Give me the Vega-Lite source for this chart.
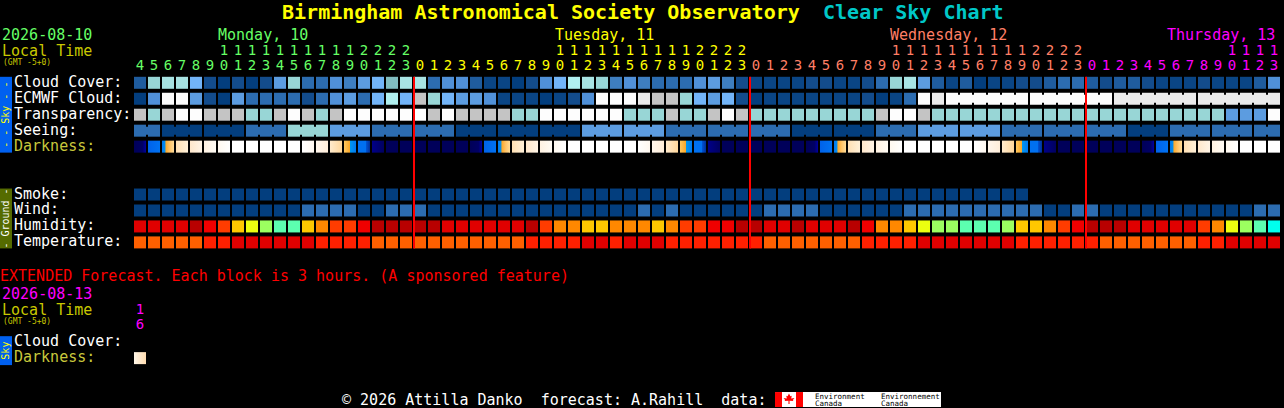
{
  "$schema": "https://vega.github.io/schema/vega-lite/v6.json",
  "width": 1284,
  "height": 408,
  "autosize": {"type": "fit", "contains": "padding"},
  "padding": 0,
  "background": "#000000",
  "config": {
    "view": {"stroke": null},
    "axis": {"disable": true},
    "legend": {"disable": true},
    "text": {"font": "DejaVu Sans Mono", "fontSize": 15, "align": "left", "baseline": "alphabetic"}
  },
  "data": {"values": [{}]},
  "datasets": {
    "cloud": [
      {"block":0,"v":"c15"},{"block":1,"v":"c70"},{"block":2,"v":"c80"},{"block":3,"v":"c80"},{"block":4,"v":"c55"},{"block":5,"v":"c10"},{"block":6,"v":"c0"},{"block":7,"v":"c10"},{"block":8,"v":"c0"},{"block":9,"v":"c10"},
      {"block":10,"v":"c50"},{"block":11,"v":"c70"},{"block":12,"v":"c20"},{"block":13,"v":"c20"},{"block":14,"v":"c40"},{"block":15,"v":"c30"},{"block":16,"v":"c50"},{"block":17,"v":"c55"},{"block":18,"v":"c60"},{"block":19,"v":"c80"},
      {"block":20,"v":"c80"},{"block":21,"v":"c20"},{"block":22,"v":"c40"},{"block":23,"v":"c40"},{"block":24,"v":"c15"},{"block":25,"v":"c5"},{"block":26,"v":"c5"},{"block":27,"v":"c0"},{"block":28,"v":"c10"},{"block":29,"v":"c40"},
      {"block":30,"v":"c55"},{"block":31,"v":"c90"},{"block":32,"v":"c80"},{"block":33,"v":"c70"},{"block":34,"v":"c30"},{"block":35,"v":"c40"},{"block":36,"v":"c30"},{"block":37,"v":"c20"},{"block":38,"v":"c20"},{"block":39,"v":"c20"},
      {"block":40,"v":"c40"},{"block":41,"v":"c50"},{"block":42,"v":"c30"},{"block":43,"v":"c10"},{"block":44,"v":"c5"},{"block":45,"v":"c5"},{"block":46,"v":"c5"},{"block":47,"v":"c5"},{"block":48,"v":"c10"},{"block":49,"v":"c10"},
      {"block":50,"v":"c5"},{"block":51,"v":"c5"},{"block":52,"v":"c10"},{"block":53,"v":"c20"},{"block":54,"v":"c70"},{"block":55,"v":"c80"},{"block":56,"v":"c50"},{"block":57,"v":"c15"},{"block":58,"v":"c5"},{"block":59,"v":"c15"},
      {"block":60,"v":"c0"},{"block":61,"v":"c5"},{"block":62,"v":"c5"},{"block":63,"v":"c10"},{"block":64,"v":"c10"},{"block":65,"v":"c15"},{"block":66,"v":"c20"},{"block":67,"v":"c20"},{"block":68,"v":"c15"},{"block":69,"v":"c10"},
      {"block":70,"v":"c15"},{"block":71,"v":"c15"},{"block":72,"v":"c10"},{"block":73,"v":"c5"},{"block":74,"v":"c5"},{"block":75,"v":"c5"},{"block":76,"v":"c10"},{"block":77,"v":"c5"},{"block":78,"v":"c5"},{"block":79,"v":"c5"},
      {"block":80,"v":"c15"},{"block":81,"v":"c40"}
    ],
    "ecmwf": [
      {"block":0,"v":"c0"},{"block":1,"v":"c40"},{"block":2,"v":"c100"},{"block":3,"v":"c100"},{"block":4,"v":"c50"},{"block":5,"v":"c10"},{"block":6,"v":"c0"},{"block":7,"v":"c50"},{"block":8,"v":"c20"},{"block":9,"v":"c20"},
      {"block":10,"v":"c20"},{"block":11,"v":"c20"},{"block":12,"v":"c10"},{"block":13,"v":"c20"},{"block":14,"v":"c40"},{"block":15,"v":"c50"},{"block":16,"v":"c20"},{"block":17,"v":"c55"},{"block":18,"v":"c90"},{"block":19,"v":"c55"},
      {"block":20,"v":"c95"},{"block":21,"v":"c70"},{"block":22,"v":"c55"},{"block":23,"v":"c50"},{"block":24,"v":"c50"},{"block":25,"v":"c40"},{"block":26,"v":"c5"},{"block":27,"v":"c5"},{"block":28,"v":"c5"},{"block":29,"v":"c0"},
      {"block":30,"v":"c5"},{"block":31,"v":"c10"},{"block":32,"v":"c40"},{"block":33,"v":"c100"},{"block":34,"v":"c100"},{"block":35,"v":"c100"},{"block":36,"v":"c98"},{"block":37,"v":"c95"},{"block":38,"v":"c95"},{"block":39,"v":"c70"},
      {"block":40,"v":"c55"},{"block":41,"v":"c50"},{"block":42,"v":"c55"},{"block":43,"v":"c10"},{"block":44,"v":"c0"},{"block":45,"v":"c5"},{"block":46,"v":"c5"},{"block":47,"v":"c5"},{"block":48,"v":"c5"},{"block":49,"v":"c5"},
      {"block":50,"v":"c5"},{"block":51,"v":"c5"},{"block":52,"v":"c10"},{"block":53,"v":"c0"},{"block":54,"v":"c5"},{"block":55,"v":"c20"},{"block":56,"v":"c100"},{"block":57,"v":"c98"},
      {"block":58,"v":"c100","link":1},{"block":59,"v":"c100","link":1},{"block":60,"v":"c100","link":1},{"block":61,"v":"c100","link":1},{"block":62,"v":"c100","link":1},{"block":63,"v":"c100"},
      {"block":64,"v":"c100","link":1},{"block":65,"v":"c100","link":1},{"block":66,"v":"c100","link":1},{"block":67,"v":"c100","link":1},{"block":68,"v":"c100","link":1},{"block":69,"v":"c100"},
      {"block":70,"v":"c98","link":1},{"block":71,"v":"c98","link":1},{"block":72,"v":"c98","link":1},{"block":73,"v":"c98","link":1},{"block":74,"v":"c98","link":1},{"block":75,"v":"c98"},
      {"block":76,"v":"c98","link":1},{"block":77,"v":"c98","link":1},{"block":78,"v":"c98","link":1},{"block":79,"v":"c98","link":1},{"block":80,"v":"c98","link":1},{"block":81,"v":"c98"}
    ],
    "transparency": [
      {"block":0,"v":"c95"},{"block":1,"v":"c70"},{"block":2,"v":"c95"},{"block":3,"v":"c100"},{"block":4,"v":"c100"},{"block":5,"v":"c95"},{"block":6,"v":"c95"},{"block":7,"v":"c95"},{"block":8,"v":"c70"},{"block":9,"v":"c70"},
      {"block":10,"v":"c95"},{"block":11,"v":"c100"},{"block":12,"v":"c95"},{"block":13,"v":"c70"},{"block":14,"v":"c95"},{"block":15,"v":"c100"},{"block":16,"v":"c100"},{"block":17,"v":"c100"},{"block":18,"v":"c100"},{"block":19,"v":"c100"},
      {"block":20,"v":"c100"},{"block":21,"v":"c95"},{"block":22,"v":"c100"},{"block":23,"v":"c95"},{"block":24,"v":"c95"},{"block":25,"v":"c95"},{"block":26,"v":"c95"},{"block":27,"v":"c70"},{"block":28,"v":"c70"},{"block":29,"v":"c100"},
      {"block":30,"v":"c100"},{"block":31,"v":"c100"},{"block":32,"v":"c100"},{"block":33,"v":"c100"},{"block":34,"v":"c100"},{"block":35,"v":"c70"},{"block":36,"v":"c70"},{"block":37,"v":"c70"},{"block":38,"v":"c95"},{"block":39,"v":"c70"},
      {"block":40,"v":"c70"},{"block":41,"v":"c95"},{"block":42,"v":"c100"},{"block":43,"v":"c95"},{"block":44,"v":"c70"},{"block":45,"v":"c70"},{"block":46,"v":"c70"},{"block":47,"v":"c70"},{"block":48,"v":"c70"},{"block":49,"v":"c70"},
      {"block":50,"v":"c70"},{"block":51,"v":"c70"},{"block":52,"v":"c70"},{"block":53,"v":"c95"},{"block":54,"v":"c100"},{"block":55,"v":"c100"},{"block":56,"v":"c95"},{"block":57,"v":"c70"},{"block":58,"v":"c70"},{"block":59,"v":"c70"},
      {"block":60,"v":"c70"},{"block":61,"v":"c70"},{"block":62,"v":"c70"},{"block":63,"v":"c70"},{"block":64,"v":"c70"},{"block":65,"v":"c70"},{"block":66,"v":"c70"},{"block":67,"v":"c70"},{"block":68,"v":"c70"},{"block":69,"v":"c70"},
      {"block":70,"v":"c70"},{"block":71,"v":"c70"},{"block":72,"v":"c70"},{"block":73,"v":"c70"},{"block":74,"v":"c70"},{"block":75,"v":"c70"},{"block":76,"v":"c70"},{"block":77,"v":"c70"},{"block":78,"v":"c50"},{"block":79,"v":"c50"},
      {"block":80,"v":"c50"},{"block":81,"v":"c100"}
    ],
    "seeing": [
      {"block":0,"v":"c20","link":1},{"block":1,"v":"c20"},
      {"block":2,"v":"c0","link":1},{"block":3,"v":"c0","link":1},{"block":4,"v":"c0"},
      {"block":5,"v":"c0","link":1},{"block":6,"v":"c0","link":1},{"block":7,"v":"c0"},
      {"block":8,"v":"c20","link":1},{"block":9,"v":"c20","link":1},{"block":10,"v":"c20"},
      {"block":11,"v":"c70","link":1},{"block":12,"v":"c70","link":1},{"block":13,"v":"c70"},
      {"block":14,"v":"c50","link":1},{"block":15,"v":"c50","link":1},{"block":16,"v":"c50"},
      {"block":17,"v":"c20","link":1},{"block":18,"v":"c20","link":1},{"block":19,"v":"c20"},
      {"block":20,"v":"c20","link":1},{"block":21,"v":"c20","link":1},{"block":22,"v":"c20"},
      {"block":23,"v":"c0","link":1},{"block":24,"v":"c0","link":1},{"block":25,"v":"c0"},
      {"block":26,"v":"c0","link":1},{"block":27,"v":"c0","link":1},{"block":28,"v":"c0"},
      {"block":29,"v":"c0","link":1},{"block":30,"v":"c0","link":1},{"block":31,"v":"c0"},
      {"block":32,"v":"c50","link":1},{"block":33,"v":"c50","link":1},{"block":34,"v":"c50"},
      {"block":35,"v":"c50","link":1},{"block":36,"v":"c50","link":1},{"block":37,"v":"c50"},
      {"block":38,"v":"c20","link":1},{"block":39,"v":"c20","link":1},{"block":40,"v":"c20"},
      {"block":41,"v":"c20","link":1},{"block":42,"v":"c20","link":1},{"block":43,"v":"c20"},
      {"block":44,"v":"c20","link":1},{"block":45,"v":"c20","link":1},{"block":46,"v":"c20"},
      {"block":47,"v":"c0","link":1},{"block":48,"v":"c0","link":1},{"block":49,"v":"c0"},
      {"block":50,"v":"c0","link":1},{"block":51,"v":"c0","link":1},{"block":52,"v":"c0"},
      {"block":53,"v":"c20","link":1},{"block":54,"v":"c20","link":1},{"block":55,"v":"c20"},
      {"block":56,"v":"c50","link":1},{"block":57,"v":"c50","link":1},{"block":58,"v":"c50"},
      {"block":59,"v":"c50","link":1},{"block":60,"v":"c50","link":1},{"block":61,"v":"c50"},
      {"block":62,"v":"c20","link":1},{"block":63,"v":"c20","link":1},{"block":64,"v":"c20"},
      {"block":65,"v":"c20","link":1},{"block":66,"v":"c20","link":1},{"block":67,"v":"c20"},
      {"block":68,"v":"c20","link":1},{"block":69,"v":"c20","link":1},{"block":70,"v":"c20"},
      {"block":71,"v":"c0","link":1},{"block":72,"v":"c0","link":1},{"block":73,"v":"c0"},
      {"block":74,"v":"c20","link":1},{"block":75,"v":"c20","link":1},{"block":76,"v":"c20"},
      {"block":77,"v":"c20","link":1},{"block":78,"v":"c20","link":1},{"block":79,"v":"c20"},
      {"block":80,"v":"c20","link":1},{"block":81,"v":"c20"}
    ],
    "darkness": [
      {"block":0,"v":"predawn"},{"block":1,"v":"sunrise"},{"block":2,"v":"dawn"},{"block":3,"v":"morn1"},{"block":4,"v":"morn2"},{"block":5,"v":"morn3"},{"block":6,"v":"morn4"},{"block":7,"v":"day"},{"block":8,"v":"day"},{"block":9,"v":"day"},
      {"block":10,"v":"day"},{"block":11,"v":"day"},{"block":12,"v":"aft1"},{"block":13,"v":"aft2"},{"block":14,"v":"aft3"},{"block":15,"v":"dusk"},{"block":16,"v":"twilight"},{"block":17,"v":"nightfall"},{"block":18,"v":"night"},{"block":19,"v":"night"},
      {"block":20,"v":"night"},{"block":21,"v":"night"},{"block":22,"v":"night"},{"block":23,"v":"night"},{"block":24,"v":"predawn"},{"block":25,"v":"sunrise"},{"block":26,"v":"dawn"},{"block":27,"v":"morn1"},{"block":28,"v":"morn2"},{"block":29,"v":"morn3"},
      {"block":30,"v":"morn4"},{"block":31,"v":"day"},{"block":32,"v":"day"},{"block":33,"v":"day"},{"block":34,"v":"day"},{"block":35,"v":"day"},{"block":36,"v":"aft1"},{"block":37,"v":"aft2"},{"block":38,"v":"aft3"},{"block":39,"v":"dusk"},
      {"block":40,"v":"twilight"},{"block":41,"v":"nightfall"},{"block":42,"v":"night"},{"block":43,"v":"night"},{"block":44,"v":"night"},{"block":45,"v":"night"},{"block":46,"v":"night"},{"block":47,"v":"night"},{"block":48,"v":"predawn"},{"block":49,"v":"sunrise"},
      {"block":50,"v":"dawn"},{"block":51,"v":"morn1"},{"block":52,"v":"morn2"},{"block":53,"v":"morn3"},{"block":54,"v":"morn4"},{"block":55,"v":"day"},{"block":56,"v":"day"},{"block":57,"v":"day"},{"block":58,"v":"day"},{"block":59,"v":"day"},
      {"block":60,"v":"aft1"},{"block":61,"v":"aft2"},{"block":62,"v":"aft3"},{"block":63,"v":"dusk"},{"block":64,"v":"twilight"},{"block":65,"v":"nightfall"},{"block":66,"v":"night"},{"block":67,"v":"night"},{"block":68,"v":"night"},{"block":69,"v":"night"},
      {"block":70,"v":"night"},{"block":71,"v":"night"},{"block":72,"v":"predawn"},{"block":73,"v":"sunrise"},{"block":74,"v":"dawn"},{"block":75,"v":"morn1"},{"block":76,"v":"morn2"},{"block":77,"v":"morn3"},{"block":78,"v":"morn4"},{"block":79,"v":"day"},
      {"block":80,"v":"day"},{"block":81,"v":"day"}
    ],
    "smoke": [
      {"block":0,"v":"c0"},{"block":1,"v":"c0"},{"block":2,"v":"c0"},{"block":3,"v":"c0"},{"block":4,"v":"c0"},{"block":5,"v":"c0"},{"block":6,"v":"c0"},{"block":7,"v":"c0"},{"block":8,"v":"c0"},{"block":9,"v":"c0"},
      {"block":10,"v":"c0"},{"block":11,"v":"c0"},{"block":12,"v":"c0"},{"block":13,"v":"c0"},{"block":14,"v":"c0"},{"block":15,"v":"c0"},{"block":16,"v":"c0"},{"block":17,"v":"c0"},{"block":18,"v":"c0"},{"block":19,"v":"c0"},
      {"block":20,"v":"c0"},{"block":21,"v":"c0"},{"block":22,"v":"c0"},{"block":23,"v":"c0"},{"block":24,"v":"c0"},{"block":25,"v":"c0"},{"block":26,"v":"c0"},{"block":27,"v":"c0"},{"block":28,"v":"c0"},{"block":29,"v":"c0"},
      {"block":30,"v":"c0"},{"block":31,"v":"c0"},{"block":32,"v":"c0"},{"block":33,"v":"c0"},{"block":34,"v":"c0"},{"block":35,"v":"c0"},{"block":36,"v":"c0"},{"block":37,"v":"c0"},{"block":38,"v":"c0"},{"block":39,"v":"c0"},
      {"block":40,"v":"c0"},{"block":41,"v":"c0"},{"block":42,"v":"c0"},{"block":43,"v":"c0"},{"block":44,"v":"c0"},{"block":45,"v":"c0"},{"block":46,"v":"c0"},{"block":47,"v":"c0"},{"block":48,"v":"c0"},{"block":49,"v":"c0"},
      {"block":50,"v":"c0"},{"block":51,"v":"c0"},{"block":52,"v":"c0"},{"block":53,"v":"c0"},{"block":54,"v":"c0"},{"block":55,"v":"c0"},{"block":56,"v":"c0"},{"block":57,"v":"c0"},{"block":58,"v":"c0"},{"block":59,"v":"c0"},
      {"block":60,"v":"c0"},{"block":61,"v":"c0"},{"block":62,"v":"c0"},{"block":63,"v":"c0"}
    ],
    "wind": [
      {"block":0,"v":"c0"},{"block":1,"v":"c0"},{"block":2,"v":"c0"},{"block":3,"v":"c0"},{"block":4,"v":"c0"},{"block":5,"v":"c0"},{"block":6,"v":"c0"},{"block":7,"v":"c0"},{"block":8,"v":"c0"},{"block":9,"v":"c0"},
      {"block":10,"v":"c0"},{"block":11,"v":"c0"},{"block":12,"v":"c20"},{"block":13,"v":"c20"},{"block":14,"v":"c20"},{"block":15,"v":"c20"},{"block":16,"v":"c0"},{"block":17,"v":"c0"},{"block":18,"v":"c20"},{"block":19,"v":"c20"},
      {"block":20,"v":"c20"},{"block":21,"v":"c0"},{"block":22,"v":"c0"},{"block":23,"v":"c0"},{"block":24,"v":"c0"},{"block":25,"v":"c0"},{"block":26,"v":"c0"},{"block":27,"v":"c0"},{"block":28,"v":"c0"},{"block":29,"v":"c0"},
      {"block":30,"v":"c0"},{"block":31,"v":"c0"},{"block":32,"v":"c0"},{"block":33,"v":"c0"},{"block":34,"v":"c0"},{"block":35,"v":"c0"},{"block":36,"v":"c20"},{"block":37,"v":"c0"},{"block":38,"v":"c20"},{"block":39,"v":"c0"},
      {"block":40,"v":"c0"},{"block":41,"v":"c0"},{"block":42,"v":"c0"},{"block":43,"v":"c0"},{"block":44,"v":"c0"},{"block":45,"v":"c20"},{"block":46,"v":"c20"},{"block":47,"v":"c20"},{"block":48,"v":"c20"},{"block":49,"v":"c0"},
      {"block":50,"v":"c0"},{"block":51,"v":"c0"},{"block":52,"v":"c0"},{"block":53,"v":"c0"},{"block":54,"v":"c0"},{"block":55,"v":"c20"},{"block":56,"v":"c20"},{"block":57,"v":"c20"},{"block":58,"v":"c20"},{"block":59,"v":"c20"},
      {"block":60,"v":"c20"},{"block":61,"v":"c20"},{"block":62,"v":"c20"},{"block":63,"v":"c20"},{"block":64,"v":"c20"},{"block":65,"v":"c0"},{"block":66,"v":"c0"},{"block":67,"v":"c20"},{"block":68,"v":"c20"},{"block":69,"v":"c0"},
      {"block":70,"v":"c0"},{"block":71,"v":"c0"},{"block":72,"v":"c0"},{"block":73,"v":"c0"},{"block":74,"v":"c0"},{"block":75,"v":"c0"},{"block":76,"v":"c0"},{"block":77,"v":"c0"},{"block":78,"v":"c0"},{"block":79,"v":"c0"},
      {"block":80,"v":"c20"},{"block":81,"v":"c20"}
    ],
    "humidity": [
      {"block":0,"v":"h80"},{"block":1,"v":"h80"},{"block":2,"v":"h80"},{"block":3,"v":"h80"},{"block":4,"v":"h95"},{"block":5,"v":"h70"},{"block":6,"v":"h55"},{"block":7,"v":"h45"},{"block":8,"v":"h40"},{"block":9,"v":"h35"},
      {"block":10,"v":"h30"},{"block":11,"v":"h30"},{"block":12,"v":"h45"},{"block":13,"v":"h50"},{"block":14,"v":"h55"},{"block":15,"v":"h55"},{"block":16,"v":"h70"},{"block":17,"v":"h95"},{"block":18,"v":"h95"},{"block":19,"v":"h95"},
      {"block":20,"v":"h95"},{"block":21,"v":"h95"},{"block":22,"v":"h80"},{"block":23,"v":"h80"},{"block":24,"v":"h80"},{"block":25,"v":"h80"},{"block":26,"v":"h80"},{"block":27,"v":"h80"},{"block":28,"v":"h95"},{"block":29,"v":"h55"},
      {"block":30,"v":"h50"},{"block":31,"v":"h50"},{"block":32,"v":"h45"},{"block":33,"v":"h45"},{"block":34,"v":"h50"},{"block":35,"v":"h50"},{"block":36,"v":"h50"},{"block":37,"v":"h45"},{"block":38,"v":"h50"},{"block":39,"v":"h55"},
      {"block":40,"v":"h55"},{"block":41,"v":"h70"},{"block":42,"v":"h70"},{"block":43,"v":"h95"},{"block":44,"v":"h95"},{"block":45,"v":"h80"},{"block":46,"v":"h80"},{"block":47,"v":"h95"},{"block":48,"v":"h80"},{"block":49,"v":"h80"},
      {"block":50,"v":"h80"},{"block":51,"v":"h95"},{"block":52,"v":"h70"},{"block":53,"v":"h50"},{"block":54,"v":"h50"},{"block":55,"v":"h45"},{"block":56,"v":"h40"},{"block":57,"v":"h35"},{"block":58,"v":"h35"},{"block":59,"v":"h30"},
      {"block":60,"v":"h30"},{"block":61,"v":"h30"},{"block":62,"v":"h35"},{"block":63,"v":"h45"},{"block":64,"v":"h45"},{"block":65,"v":"h50"},{"block":66,"v":"h55"},{"block":67,"v":"h70"},{"block":68,"v":"h95"},{"block":69,"v":"h95"},
      {"block":70,"v":"h95"},{"block":71,"v":"h80"},{"block":72,"v":"h80"},{"block":73,"v":"h80"},{"block":74,"v":"h80"},{"block":75,"v":"h80"},{"block":76,"v":"h55"},{"block":77,"v":"h50"},{"block":78,"v":"h40"},{"block":79,"v":"h35"},
      {"block":80,"v":"h30"},{"block":81,"v":"h25"}
    ],
    "temperature": [
      {"block":0,"v":"t20"},{"block":1,"v":"t20"},{"block":2,"v":"t20"},{"block":3,"v":"t20"},{"block":4,"v":"t20"},{"block":5,"v":"t24"},{"block":6,"v":"t24"},{"block":7,"v":"t28"},{"block":8,"v":"t28"},{"block":9,"v":"t28"},
      {"block":10,"v":"t28"},{"block":11,"v":"t28"},{"block":12,"v":"t28"},{"block":13,"v":"t24"},{"block":14,"v":"t24"},{"block":15,"v":"t24"},{"block":16,"v":"t24"},{"block":17,"v":"t20"},{"block":18,"v":"t20"},{"block":19,"v":"t20"},
      {"block":20,"v":"t20"},{"block":21,"v":"t20"},{"block":22,"v":"t20"},{"block":23,"v":"t20"},{"block":24,"v":"t20"},{"block":25,"v":"t20"},{"block":26,"v":"t20"},{"block":27,"v":"t20"},{"block":28,"v":"t24"},{"block":29,"v":"t24"},
      {"block":30,"v":"t24"},{"block":31,"v":"t24"},{"block":32,"v":"t28"},{"block":33,"v":"t28"},{"block":34,"v":"t24"},{"block":35,"v":"t28"},{"block":36,"v":"t28"},{"block":37,"v":"t28"},{"block":38,"v":"t24"},{"block":39,"v":"t24"},
      {"block":40,"v":"t24"},{"block":41,"v":"t24"},{"block":42,"v":"t24"},{"block":43,"v":"t24"},{"block":44,"v":"t24"},{"block":45,"v":"t20"},{"block":46,"v":"t20"},{"block":47,"v":"t20"},{"block":48,"v":"t20"},{"block":49,"v":"t20"},
      {"block":50,"v":"t20"},{"block":51,"v":"t20"},{"block":52,"v":"t24"},{"block":53,"v":"t24"},{"block":54,"v":"t24"},{"block":55,"v":"t24"},{"block":56,"v":"t28"},{"block":57,"v":"t28"},{"block":58,"v":"t28"},{"block":59,"v":"t28"},
      {"block":60,"v":"t28"},{"block":61,"v":"t28"},{"block":62,"v":"t28"},{"block":63,"v":"t24"},{"block":64,"v":"t24"},{"block":65,"v":"t24"},{"block":66,"v":"t24"},{"block":67,"v":"t24"},{"block":68,"v":"t24"},{"block":69,"v":"t20"},
      {"block":70,"v":"t20"},{"block":71,"v":"t20"},{"block":72,"v":"t20"},{"block":73,"v":"t20"},{"block":74,"v":"t20"},{"block":75,"v":"t20"},{"block":76,"v":"t24"},{"block":77,"v":"t24"},{"block":78,"v":"t28"},{"block":79,"v":"t28"},
      {"block":80,"v":"t28"},{"block":81,"v":"t28"}
    ],
    "hours": [
      {"block":0,"ones":"4","tens":"","v":"Monday"},{"block":1,"ones":"5","tens":"","v":"Monday"},{"block":2,"ones":"6","tens":"","v":"Monday"},{"block":3,"ones":"7","tens":"","v":"Monday"},{"block":4,"ones":"8","tens":"","v":"Monday"},{"block":5,"ones":"9","tens":"","v":"Monday"},
      {"block":6,"ones":"0","tens":"1","v":"Monday"},{"block":7,"ones":"1","tens":"1","v":"Monday"},{"block":8,"ones":"2","tens":"1","v":"Monday"},{"block":9,"ones":"3","tens":"1","v":"Monday"},{"block":10,"ones":"4","tens":"1","v":"Monday"},{"block":11,"ones":"5","tens":"1","v":"Monday"},{"block":12,"ones":"6","tens":"1","v":"Monday"},{"block":13,"ones":"7","tens":"1","v":"Monday"},{"block":14,"ones":"8","tens":"1","v":"Monday"},{"block":15,"ones":"9","tens":"1","v":"Monday"},
      {"block":16,"ones":"0","tens":"2","v":"Monday"},{"block":17,"ones":"1","tens":"2","v":"Monday"},{"block":18,"ones":"2","tens":"2","v":"Monday"},{"block":19,"ones":"3","tens":"2","v":"Monday"},
      {"block":20,"ones":"0","tens":"","v":"Tuesday"},{"block":21,"ones":"1","tens":"","v":"Tuesday"},{"block":22,"ones":"2","tens":"","v":"Tuesday"},{"block":23,"ones":"3","tens":"","v":"Tuesday"},{"block":24,"ones":"4","tens":"","v":"Tuesday"},{"block":25,"ones":"5","tens":"","v":"Tuesday"},{"block":26,"ones":"6","tens":"","v":"Tuesday"},{"block":27,"ones":"7","tens":"","v":"Tuesday"},{"block":28,"ones":"8","tens":"","v":"Tuesday"},{"block":29,"ones":"9","tens":"","v":"Tuesday"},
      {"block":30,"ones":"0","tens":"1","v":"Tuesday"},{"block":31,"ones":"1","tens":"1","v":"Tuesday"},{"block":32,"ones":"2","tens":"1","v":"Tuesday"},{"block":33,"ones":"3","tens":"1","v":"Tuesday"},{"block":34,"ones":"4","tens":"1","v":"Tuesday"},{"block":35,"ones":"5","tens":"1","v":"Tuesday"},{"block":36,"ones":"6","tens":"1","v":"Tuesday"},{"block":37,"ones":"7","tens":"1","v":"Tuesday"},{"block":38,"ones":"8","tens":"1","v":"Tuesday"},{"block":39,"ones":"9","tens":"1","v":"Tuesday"},
      {"block":40,"ones":"0","tens":"2","v":"Tuesday"},{"block":41,"ones":"1","tens":"2","v":"Tuesday"},{"block":42,"ones":"2","tens":"2","v":"Tuesday"},{"block":43,"ones":"3","tens":"2","v":"Tuesday"},
      {"block":44,"ones":"0","tens":"","v":"Wednesday"},{"block":45,"ones":"1","tens":"","v":"Wednesday"},{"block":46,"ones":"2","tens":"","v":"Wednesday"},{"block":47,"ones":"3","tens":"","v":"Wednesday"},{"block":48,"ones":"4","tens":"","v":"Wednesday"},{"block":49,"ones":"5","tens":"","v":"Wednesday"},{"block":50,"ones":"6","tens":"","v":"Wednesday"},{"block":51,"ones":"7","tens":"","v":"Wednesday"},{"block":52,"ones":"8","tens":"","v":"Wednesday"},{"block":53,"ones":"9","tens":"","v":"Wednesday"},
      {"block":54,"ones":"0","tens":"1","v":"Wednesday"},{"block":55,"ones":"1","tens":"1","v":"Wednesday"},{"block":56,"ones":"2","tens":"1","v":"Wednesday"},{"block":57,"ones":"3","tens":"1","v":"Wednesday"},{"block":58,"ones":"4","tens":"1","v":"Wednesday"},{"block":59,"ones":"5","tens":"1","v":"Wednesday"},{"block":60,"ones":"6","tens":"1","v":"Wednesday"},{"block":61,"ones":"7","tens":"1","v":"Wednesday"},{"block":62,"ones":"8","tens":"1","v":"Wednesday"},{"block":63,"ones":"9","tens":"1","v":"Wednesday"},
      {"block":64,"ones":"0","tens":"2","v":"Wednesday"},{"block":65,"ones":"1","tens":"2","v":"Wednesday"},{"block":66,"ones":"2","tens":"2","v":"Wednesday"},{"block":67,"ones":"3","tens":"2","v":"Wednesday"},
      {"block":68,"ones":"0","tens":"","v":"Thursday"},{"block":69,"ones":"1","tens":"","v":"Thursday"},{"block":70,"ones":"2","tens":"","v":"Thursday"},{"block":71,"ones":"3","tens":"","v":"Thursday"},{"block":72,"ones":"4","tens":"","v":"Thursday"},{"block":73,"ones":"5","tens":"","v":"Thursday"},{"block":74,"ones":"6","tens":"","v":"Thursday"},{"block":75,"ones":"7","tens":"","v":"Thursday"},{"block":76,"ones":"8","tens":"","v":"Thursday"},{"block":77,"ones":"9","tens":"","v":"Thursday"},
      {"block":78,"ones":"0","tens":"1","v":"Thursday"},{"block":79,"ones":"1","tens":"1","v":"Thursday"},{"block":80,"ones":"2","tens":"1","v":"Thursday"},{"block":81,"ones":"3","tens":"1","v":"Thursday"}
    ],
    "days": [
      {"block":5.571,"label":"Monday, 10","v":"Monday"},
      {"block":29.643,"label":"Tuesday, 11","v":"Tuesday"},
      {"block":53.571,"label":"Wednesday, 12","v":"Wednesday"},
      {"block":73.357,"label":"Thursday, 13","v":"Thursday"},
      {"block":-9.857,"label":"2026-08-10","v":"Monday"}
    ],
    "midnights": [{"block":20},{"block":44},{"block":68}],
    "rowLabels": [
      {"label":"Cloud Cover:","line":0},{"label":"ECMWF Cloud:","line":1},{"label":"Transparency:","line":2},{"label":"Seeing:","line":3},
      {"label":"Smoke:","line":7},{"label":"Wind:","line":8},{"label":"Humidity:","line":9},{"label":"Temperature:","line":10},
      {"label":"Cloud Cover:","line":16.25}
    ],
    "darkLabels": [{"label":"Darkness:","line":4},{"label":"Darkness:","line":17.25}],
    "localTime": [{"label":"Local Time","line":-1.6875},{"label":"Local Time","line":14.5625}],
    "gmt": [{"label":"(GMT -5+0)","line":-1.125},{"label":"(GMT -5+0)","line":15.125}]
  },
  "encoding": {
    "x": {"type": "quantitative", "scale": {"domain": [-10, 81.714285714]}},
    "y": {"type": "quantitative", "scale": {"domain": [-5.1875, 20.3125], "reverse": true}},
    "color": {
      "field": "v",
      "type": "nominal",
      "scale": {
        "domain": ["c0","c5","c10","c15","c20","c30","c40","c50","c55","c60","c70","c80","c90","c95","c98","c100","h25","h30","h35","h40","h45","h50","h55","h70","h80","h95","t20","t24","t28","night","day","Monday","Tuesday","Wednesday","Thursday"],
        "range": ["#033e7e","#0a4585","#134c8c","#1f5c9e","#2c6cb0","#3e7ec0","#5090d8","#5c9ce0","#72b4f8","#80bcc0","#98d6d6","#a8e4e4","#b0f0f0","#c4c4c4","#ebebeb","#fdfdfd","#00ffee","#5cffb0","#9cff60","#ecff10","#ffc800","#ff8800","#ff3c00","#f00000","#e00000","#b80000","#ff6000","#ff2000","#e00000","#00005a","#ffffff","#66ff66","#ffff00","#ff7f66","#ff00ff"]
      }
    }
  },
  "layer": [
    {
      "encoding": {"x": {"field": "block"}},
      "layer": [
        {"data": {"name": "cloud"}, "mark": {"type": "rect", "width": 12, "height": 12}, "encoding": {"y": {"datum": 0}}},
        {"data": {"name": "ecmwf"}, "mark": {"type": "rect", "width": 12, "height": 12}, "encoding": {"y": {"datum": 1}}},
        {"data": {"name": "ecmwf"}, "transform": [{"filter": "datum.link"}], "mark": {"type": "rect", "width": 2, "height": 8, "xOffset": 7}, "encoding": {"y": {"datum": 1}}},
        {"data": {"name": "transparency"}, "mark": {"type": "rect", "width": 12, "height": 12}, "encoding": {"y": {"datum": 2}}},
        {"data": {"name": "seeing"}, "mark": {"type": "rect", "width": 12, "height": 12}, "encoding": {"y": {"datum": 3}}},
        {"data": {"name": "seeing"}, "transform": [{"filter": "datum.link"}], "mark": {"type": "rect", "width": 2, "height": 8, "xOffset": 7}, "encoding": {"y": {"datum": 3}}},
        {"data": {"name": "darkness"}, "transform": [{"filter": {"field": "v", "oneOf": ["night", "day"]}}], "mark": {"type": "rect", "width": 12, "height": 12}, "encoding": {"y": {"datum": 4}}},
        {"data": {"name": "darkness"}, "transform": [{"filter": {"field": "v", "equal": "predawn"}}], "mark": {"type": "rect", "width": 12, "height": 12}, "encoding": {"y": {"datum": 4}, "color": {"value": {"gradient": "linear", "x1": 0, "y1": 0, "x2": 1, "y2": 0, "stops": [{"offset": 0, "color": "#000058"}, {"offset": 0.7, "color": "#000064"}, {"offset": 1, "color": "#0000a0"}]}}}},
        {"data": {"name": "darkness"}, "transform": [{"filter": {"field": "v", "equal": "sunrise"}}], "mark": {"type": "rect", "width": 12, "height": 12}, "encoding": {"y": {"datum": 4}, "color": {"value": {"gradient": "linear", "x1": 0, "y1": 0, "x2": 1, "y2": 0, "stops": [{"offset": 0, "color": "#0062ea"}, {"offset": 1, "color": "#0072f2"}]}}}},
        {"data": {"name": "darkness"}, "transform": [{"filter": {"field": "v", "equal": "dawn"}}], "mark": {"type": "rect", "width": 12, "height": 12}, "encoding": {"y": {"datum": 4}, "color": {"value": {"gradient": "linear", "x1": 0, "y1": 0, "x2": 1, "y2": 0, "stops": [{"offset": 0, "color": "#0078f0"}, {"offset": 0.28, "color": "#0090f0"}, {"offset": 0.3, "color": "#fca828"}, {"offset": 0.6, "color": "#ffc060"}, {"offset": 1, "color": "#ffdc98"}]}}}},
        {"data": {"name": "darkness"}, "transform": [{"filter": {"field": "v", "equal": "morn1"}}], "mark": {"type": "rect", "width": 12, "height": 12}, "encoding": {"y": {"datum": 4}, "color": {"value": {"gradient": "linear", "x1": 0, "y1": 0, "x2": 1, "y2": 0, "stops": [{"offset": 0, "color": "#ffe0b4"}, {"offset": 1, "color": "#fff0d8"}]}}}},
        {"data": {"name": "darkness"}, "transform": [{"filter": {"field": "v", "equal": "morn2"}}], "mark": {"type": "rect", "width": 12, "height": 12}, "encoding": {"y": {"datum": 4}, "color": {"value": {"gradient": "linear", "x1": 0, "y1": 0, "x2": 1, "y2": 0, "stops": [{"offset": 0, "color": "#ffe8cc"}, {"offset": 1, "color": "#fff4e6"}]}}}},
        {"data": {"name": "darkness"}, "transform": [{"filter": {"field": "v", "equal": "morn3"}}], "mark": {"type": "rect", "width": 12, "height": 12}, "encoding": {"y": {"datum": 4}, "color": {"value": {"gradient": "linear", "x1": 0, "y1": 0, "x2": 1, "y2": 0, "stops": [{"offset": 0, "color": "#fff2e2"}, {"offset": 1, "color": "#fffbf4"}]}}}},
        {"data": {"name": "darkness"}, "transform": [{"filter": {"field": "v", "equal": "morn4"}}], "mark": {"type": "rect", "width": 12, "height": 12}, "encoding": {"y": {"datum": 4}, "color": {"value": {"gradient": "linear", "x1": 0, "y1": 0, "x2": 1, "y2": 0, "stops": [{"offset": 0, "color": "#fff9f0"}, {"offset": 1, "color": "#ffffff"}]}}}},
        {"data": {"name": "darkness"}, "transform": [{"filter": {"field": "v", "equal": "aft1"}}], "mark": {"type": "rect", "width": 12, "height": 12}, "encoding": {"y": {"datum": 4}, "color": {"value": {"gradient": "linear", "x1": 0, "y1": 0, "x2": 1, "y2": 0, "stops": [{"offset": 0, "color": "#ffffff"}, {"offset": 1, "color": "#fff8f0"}]}}}},
        {"data": {"name": "darkness"}, "transform": [{"filter": {"field": "v", "equal": "aft2"}}], "mark": {"type": "rect", "width": 12, "height": 12}, "encoding": {"y": {"datum": 4}, "color": {"value": {"gradient": "linear", "x1": 0, "y1": 0, "x2": 1, "y2": 0, "stops": [{"offset": 0, "color": "#fff6ec"}, {"offset": 1, "color": "#ffeeda"}]}}}},
        {"data": {"name": "darkness"}, "transform": [{"filter": {"field": "v", "equal": "aft3"}}], "mark": {"type": "rect", "width": 12, "height": 12}, "encoding": {"y": {"datum": 4}, "color": {"value": {"gradient": "linear", "x1": 0, "y1": 0, "x2": 1, "y2": 0, "stops": [{"offset": 0, "color": "#ffeacc"}, {"offset": 1, "color": "#ffd79c"}]}}}},
        {"data": {"name": "darkness"}, "transform": [{"filter": {"field": "v", "equal": "dusk"}}], "mark": {"type": "rect", "width": 12, "height": 12}, "encoding": {"y": {"datum": 4}, "color": {"value": {"gradient": "linear", "x1": 0, "y1": 0, "x2": 1, "y2": 0, "stops": [{"offset": 0, "color": "#ffc860"}, {"offset": 0.48, "color": "#fca828"}, {"offset": 0.5, "color": "#0098f0"}, {"offset": 1, "color": "#0078f0"}]}}}},
        {"data": {"name": "darkness"}, "transform": [{"filter": {"field": "v", "equal": "twilight"}}], "mark": {"type": "rect", "width": 12, "height": 12}, "encoding": {"y": {"datum": 4}, "color": {"value": {"gradient": "linear", "x1": 0, "y1": 0, "x2": 1, "y2": 0, "stops": [{"offset": 0, "color": "#0070f0"}, {"offset": 0.65, "color": "#0070f0"}, {"offset": 0.7, "color": "#0050d0"}, {"offset": 1, "color": "#003099"}]}}}},
        {"data": {"name": "darkness"}, "transform": [{"filter": {"field": "v", "equal": "nightfall"}}], "mark": {"type": "rect", "width": 12, "height": 12}, "encoding": {"y": {"datum": 4}, "color": {"value": {"gradient": "linear", "x1": 0, "y1": 0, "x2": 1, "y2": 0, "stops": [{"offset": 0, "color": "#000088"}, {"offset": 1, "color": "#000060"}]}}}},
        {"data": {"name": "smoke"}, "mark": {"type": "rect", "width": 12, "height": 12}, "encoding": {"y": {"datum": 7}}},
        {"data": {"name": "wind"}, "mark": {"type": "rect", "width": 12, "height": 12}, "encoding": {"y": {"datum": 8}}},
        {"data": {"name": "humidity"}, "mark": {"type": "rect", "width": 12, "height": 12}, "encoding": {"y": {"datum": 9}}},
        {"data": {"name": "temperature"}, "mark": {"type": "rect", "width": 12, "height": 12}, "encoding": {"y": {"datum": 10}}},
        {"data": {"values": [{"block": 0}]}, "mark": {"type": "rect", "width": 12, "height": 12}, "encoding": {"y": {"datum": 17.25}, "color": {"value": {"gradient": "linear", "x1": 0, "y1": 0, "x2": 1, "y2": 0, "stops": [{"offset": 0, "color": "#fff6e8"}, {"offset": 1, "color": "#ffdcb0"}]}}}},
        {"data": {"name": "midnights"}, "mark": {"type": "rule", "strokeWidth": 2, "xOffset": -6}, "encoding": {"y": {"datum": -0.375}, "y2": {"datum": 10.375}, "color": {"value": "#ff0000"}}},
        {"data": {"name": "days"}, "mark": "text", "encoding": {"y": {"datum": -2.6875}, "text": {"field": "label"}}},
        {"data": {"name": "hours"}, "mark": {"type": "text", "align": "center", "fontSize": 14}, "encoding": {"y": {"datum": -1.75}, "text": {"field": "tens"}}},
        {"data": {"name": "hours"}, "mark": {"type": "text", "align": "center", "fontSize": 14}, "encoding": {"y": {"datum": -0.8125}, "text": {"field": "ones"}}}
      ]
    },

    {"mark": "rect", "encoding": {"x": {"datum": -10}, "x2": {"datum": -9.143}, "y": {"datum": -0.375}, "y2": {"datum": 4.375}, "color": {"value": "#0060f0"}}},
    {"mark": "rect", "encoding": {"x": {"datum": -10}, "x2": {"datum": -9.143}, "y": {"datum": 6.625}, "y2": {"datum": 10.375}, "color": {"value": "#556b00"}}},
    {"mark": "rect", "encoding": {"x": {"datum": -10}, "x2": {"datum": -9.143}, "y": {"datum": 15.875}, "y2": {"datum": 17.6875}, "color": {"value": "#0060f0"}}},
    {"mark": {"type": "text", "angle": 270, "align": "center", "baseline": "middle", "fontSize": 10}, "encoding": {"x": {"datum": -9.571}, "y": {"datum": 2}, "text": {"value": "- - Sky - -"}, "color": {"value": "#ffff00"}}},
    {"mark": {"type": "text", "angle": 270, "align": "center", "baseline": "middle", "fontSize": 10}, "encoding": {"x": {"datum": -9.571}, "y": {"datum": 8.5}, "text": {"value": "- Ground -"}, "color": {"value": "#ffffff"}}},
    {"mark": {"type": "text", "angle": 270, "align": "center", "baseline": "middle", "fontSize": 10}, "encoding": {"x": {"datum": -9.571}, "y": {"datum": 16.78}, "text": {"value": "Sky"}, "color": {"value": "#ffff00"}}},

    {"mark": {"type": "text", "fontSize": 20, "fontWeight": "bold"}, "encoding": {"x": {"datum": 10.143}, "y": {"datum": -4}, "text": {"value": "Birmingham Astronomical Society Observatory"}, "color": {"value": "#ffff00"}}},
    {"mark": {"type": "text", "fontSize": 20, "fontWeight": "bold"}, "encoding": {"x": {"datum": 48.786}, "y": {"datum": -4}, "text": {"value": "Clear Sky Chart"}, "color": {"value": "#00c8c8"}}},

    {"data": {"name": "localTime"}, "mark": "text", "encoding": {"x": {"datum": -9.857}, "y": {"field": "line"}, "text": {"field": "label"}, "color": {"value": "#c8c800"}}},
    {"data": {"name": "gmt"}, "mark": {"type": "text", "fontSize": 8}, "encoding": {"x": {"datum": -9.786}, "y": {"field": "line"}, "text": {"field": "label"}, "color": {"value": "#c8c800"}}},
    {"data": {"name": "rowLabels"}, "mark": {"type": "text", "dy": 4}, "encoding": {"x": {"datum": -9}, "y": {"field": "line"}, "text": {"field": "label"}, "color": {"value": "#ffffff"}}},
    {"data": {"name": "darkLabels"}, "mark": {"type": "text", "dy": 4}, "encoding": {"x": {"datum": -9}, "y": {"field": "line"}, "text": {"field": "label"}, "color": {"value": "#c8c83c"}}},

    {"mark": "text", "encoding": {"x": {"datum": -10}, "y": {"datum": 12.4375}, "text": {"value": "EXTENDED Forecast. Each block is 3 hours. (A sponsored feature)"}, "color": {"value": "#ff0000"}}},
    {"mark": "text", "encoding": {"x": {"datum": -9.857}, "y": {"datum": 13.5625}, "text": {"value": "2026-08-13"}, "color": {"value": "#ff00ff"}}},
    {"mark": {"type": "text", "align": "center", "fontSize": 14}, "encoding": {"x": {"datum": 0}, "y": {"datum": 14.5}, "text": {"value": "1"}, "color": {"value": "#ff00ff"}}},
    {"mark": {"type": "text", "align": "center", "fontSize": 14}, "encoding": {"x": {"datum": 0}, "y": {"datum": 15.4375}, "text": {"value": "6"}, "color": {"value": "#ff00ff"}}},

    {"mark": "text", "encoding": {"x": {"datum": 14.429}, "y": {"datum": 20.1875}, "text": {"value": "© 2026 Attilla Danko\u00a0\u00a0forecast: A.Rahill\u00a0\u00a0data:"}, "color": {"value": "#ffffff"}}},
    {"mark": "rect", "encoding": {"x": {"datum": 45.357}, "x2": {"datum": 57.214}, "y": {"datum": 19.375}, "y2": {"datum": 20.3125}, "color": {"value": "#ffffff"}}},
    {"mark": "rect", "encoding": {"x": {"datum": 45.357}, "x2": {"datum": 45.857}, "y": {"datum": 19.375}, "y2": {"datum": 20.3125}, "color": {"value": "#ff0000"}}},
    {"mark": "rect", "encoding": {"x": {"datum": 46.857}, "x2": {"datum": 47.357}, "y": {"datum": 19.375}, "y2": {"datum": 20.3125}, "color": {"value": "#ff0000"}}},
    {"mark": {"type": "point", "filled": true, "opacity": 1, "size": 120, "shape": "M0,-1L.25,-.5L.5,-.6L.4,-.1L1,-.2L.7,.2L.8,.35L.1,.3L.1,.9L-.1,.9L-.1,.3L-.8,.35L-.7,.2L-1,-.2L-.4,-.1L-.5,-.6L-.25,-.5Z"}, "encoding": {"x": {"datum": 46.357}, "y": {"datum": 19.8125}, "color": {"value": "#ff0000"}}},
    {"mark": {"type": "text", "fontSize": 7.5}, "encoding": {"x": {"datum": 48.214}, "y": {"datum": 19.8125}, "text": {"value": "Environment"}, "color": {"value": "#000000"}}},
    {"mark": {"type": "text", "fontSize": 7.5}, "encoding": {"x": {"datum": 48.214}, "y": {"datum": 20.25}, "text": {"value": "Canada"}, "color": {"value": "#000000"}}},
    {"mark": {"type": "text", "fontSize": 7.5}, "encoding": {"x": {"datum": 52.929}, "y": {"datum": 19.8125}, "text": {"value": "Environnement"}, "color": {"value": "#000000"}}},
    {"mark": {"type": "text", "fontSize": 7.5}, "encoding": {"x": {"datum": 52.929}, "y": {"datum": 20.25}, "text": {"value": "Canada"}, "color": {"value": "#000000"}}}
  ]
}
